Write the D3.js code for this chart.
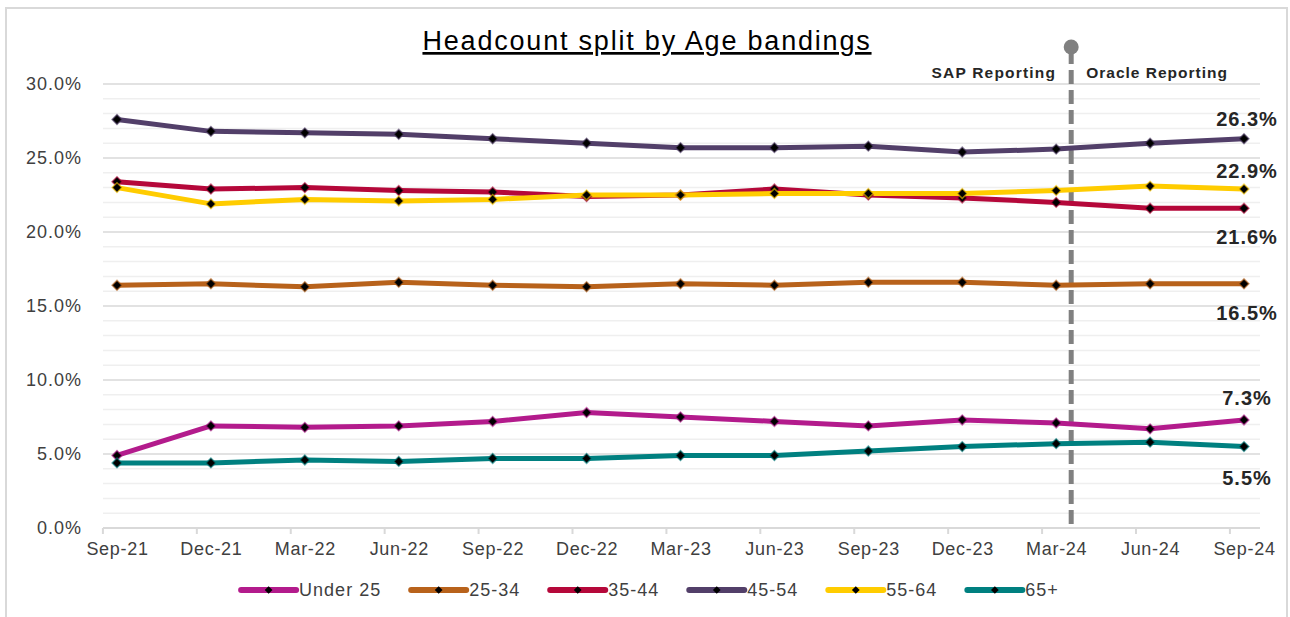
<!DOCTYPE html>
<html>
<head>
<meta charset="utf-8">
<script src="https://cdn.jsdelivr.net/npm/d3@7"></script>
<style>
  body { margin: 0; background: #fff; }
  svg text { font-family: "Liberation Sans", Arial, sans-serif; }
</style>
</head>
<body>
<svg class="chart" width="1290" height="617"></svg>
<script>
// quarters on the x axis
const quarters = ['Sep-21', 'Dec-21', 'Mar-22', 'Jun-22', 'Sep-22', 'Dec-22', 'Mar-23',
                  'Jun-23', 'Sep-23', 'Dec-23', 'Mar-24', 'Jun-24', 'Sep-24'];

// % of headcount per age band
const under25 = [4.9, 6.9, 6.8, 6.9, 7.2, 7.8, 7.5, 7.2, 6.9, 7.3, 7.1, 6.7, 7.3];
const age25to34 = [16.4, 16.5, 16.3, 16.6, 16.4, 16.3, 16.5, 16.4, 16.6, 16.6, 16.4, 16.5, 16.5];
const age35to44 = [23.4, 22.9, 23.0, 22.8, 22.7, 22.4, 22.5, 22.9, 22.5, 22.3, 22.0, 21.6, 21.6];
const age45to54 = [27.6, 26.8, 26.7, 26.6, 26.3, 26.0, 25.7, 25.7, 25.8, 25.4, 25.6, 26.0, 26.3];
const age55to64 = [23.0, 21.9, 22.2, 22.1, 22.2, 22.5, 22.5, 22.6, 22.6, 22.6, 22.8, 23.1, 22.9];
const age65plus = [4.4, 4.4, 4.6, 4.5, 4.7, 4.7, 4.9, 4.9, 5.2, 5.5, 5.7, 5.8, 5.5];

const bandNames = ['Under 25', '25-34', '35-44', '45-54', '55-64', '65+'];
const bandValues = [under25, age25to34, age35to44, age45to54, age55to64, age65plus];
const bandColors = ['#B31B8C', '#B8621B', '#B5083A', '#523F69', '#FFCC00', '#008080'];
// vertical nudge of the end label (px), relative to the last point
const labelShift = [-22, 29, 29, -20, -18, 31];

const yTicks = [0, 5, 10, 15, 20, 25, 30];
const switchAfter = 'Mar-24';

const svg = d3.select('.chart');

// outer frame
svg.append('rect')
    .attr('x', 6).attr('y', 8)
    .attr('width', 1281).attr('height', 620)
    .attr('fill', 'none')
    .attr('stroke', '#d9d9d9')
    .attr('stroke-width', 2);

const plotLeft = 103, plotRight = 1260, plotTop = 84, plotBottom = 528;

const x = d3.scalePoint()
    .domain(quarters)
    .range([117, 1244]);
const step = x.step();

const y = d3.scaleLinear()
    .domain([0, 30])
    .range([plotBottom, plotTop]);

// gridlines: light every 1%, darker every 5%
svg.append('g')
    .selectAll('line')
    .data(d3.range(1, 30).filter(d => d % 5 !== 0))
    .enter().append('line')
        .attr('x1', plotLeft).attr('x2', plotRight)
        .attr('y1', d => y(d)).attr('y2', d => y(d))
        .attr('stroke', '#efefef')
        .attr('stroke-width', 1.5);

svg.append('g')
    .selectAll('line')
    .data(yTicks.slice(1))
    .enter().append('line')
        .attr('x1', plotLeft).attr('x2', plotRight)
        .attr('y1', d => y(d)).attr('y2', d => y(d))
        .attr('stroke', '#d9d9d9')
        .attr('stroke-width', 1.5);

// y axis labels
const yAxis = svg.append('g')
    .attr('transform', 'translate(' + plotLeft + ',0)')
    .call(d3.axisLeft(y).tickValues(yTicks).tickSize(0).tickPadding(21)
        .tickFormat(d => d.toFixed(1) + '%'));
yAxis.select('.domain').remove();
yAxis.selectAll('text')
    .attr('font-size', 18)
    .attr('letter-spacing', 1)
    .attr('fill', '#404040')
    .attr('font-family', '"Liberation Sans", Arial, sans-serif');

// x axis
svg.append('line')
    .attr('x1', plotLeft).attr('x2', plotRight)
    .attr('y1', plotBottom).attr('y2', plotBottom)
    .attr('stroke', '#d9d9d9')
    .attr('stroke-width', 2);

svg.append('g')
    .selectAll('line')
    .data(quarters)
    .enter().append('line')
        .attr('x1', d => x(d) - step * 0.15).attr('x2', d => x(d) - step * 0.15)
        .attr('y1', plotBottom).attr('y2', plotBottom + 6)
        .attr('stroke', '#d9d9d9')
        .attr('stroke-width', 2);

const xAxis = svg.append('g')
    .attr('transform', 'translate(0,' + plotBottom + ')')
    .call(d3.axisBottom(x).tickSize(0).tickPadding(14));
xAxis.select('.domain').remove();
xAxis.selectAll('text')
    .attr('font-size', 18)
    .attr('letter-spacing', 0.7)
    .attr('fill', '#404040')
    .attr('font-family', '"Liberation Sans", Arial, sans-serif');

// SAP -> Oracle divider
const divX = x(switchAfter) + step * 0.16;
svg.append('line')
    .attr('x1', divX).attr('x2', divX)
    .attr('y1', 50).attr('y2', plotBottom - 4)
    .attr('stroke', '#808080')
    .attr('stroke-width', 5)
    .attr('stroke-dasharray', '14,6');
svg.append('circle')
    .attr('cx', divX).attr('cy', 47)
    .attr('r', 7.5)
    .attr('fill', '#808080');

svg.append('text')
    .attr('x', divX - 15).attr('y', 78)
    .attr('text-anchor', 'end')
    .attr('font-size', 15.5)
    .attr('font-weight', 'bold')
    .attr('letter-spacing', 1.2)
    .attr('fill', '#262626')
    .text('SAP Reporting');
svg.append('text')
    .attr('x', divX + 15).attr('y', 78)
    .attr('font-size', 15.5)
    .attr('font-weight', 'bold')
    .attr('letter-spacing', 1)
    .attr('fill', '#262626')
    .text('Oracle Reporting');

// title
svg.append('text')
    .attr('x', 647).attr('y', 50)
    .attr('text-anchor', 'middle')
    .attr('font-size', 27)
    .attr('letter-spacing', 1.8)
    .attr('text-decoration', 'underline')
    .attr('fill', '#000')
    .text('Headcount split by Age bandings');

// series lines
const line = d3.line()
    .x((d, i) => x(quarters[i]))
    .y(d => y(d));

// square turned 45 degrees, like Excel's diamond marker
const diamond = d3.symbol().type(d3.symbolSquare).size(48);

bandValues.forEach((vals, k) => {
    svg.append('path')
        .datum(vals)
        .attr('fill', 'none')
        .attr('stroke', bandColors[k])
        .attr('stroke-width', 5)
        .attr('stroke-linejoin', 'round')
        .attr('d', line);
});

bandValues.forEach((vals, k) => {
    svg.append('g')
        .selectAll('path')
        .data(vals)
        .enter().append('path')
            .attr('transform', (d, i) => 'translate(' + x(quarters[i]) + ',' + y(d) + ') rotate(45)')
            .attr('d', diamond)
            .attr('fill', '#000')
            .attr('stroke', bandColors[k])
            .attr('stroke-opacity', 0.6)
            .attr('stroke-width', 1.5);
});

// end-of-line value labels
bandValues.forEach((vals, k) => {
    const last = vals[vals.length - 1];
    svg.append('text')
        .attr('x', x(quarters[quarters.length - 1]) + 3)
        .attr('y', y(last) + labelShift[k])
        .attr('dy', '0.35em')
        .attr('text-anchor', 'middle')
        .attr('font-size', 20)
        .attr('font-weight', 'bold')
        .attr('letter-spacing', 1)
        .attr('fill', '#262626')
        .text(last.toFixed(1) + '%');
});

// legend
const legend = svg.append('g');
const legendGap = 30;
let lx = 0;
bandNames.forEach((name, k) => {
    const g = legend.append('g').attr('transform', 'translate(' + lx + ',0)');
    g.append('line')
        .attr('x1', 0).attr('x2', 55)
        .attr('y1', 0).attr('y2', 0)
        .attr('stroke', bandColors[k])
        .attr('stroke-width', 6)
        .attr('stroke-linecap', 'round');
    g.append('path')
        .attr('transform', 'translate(27.5,0) rotate(45)')
        .attr('d', d3.symbol().type(d3.symbolSquare).size(30))
        .attr('fill', '#000');
    const t = g.append('text')
        .attr('x', 58).attr('y', 0)
        .attr('dy', '0.35em')
        .attr('font-size', 18)
        .attr('letter-spacing', 1)
        .attr('fill', '#404040')
        .text(name);
    lx += 58 + t.node().getComputedTextLength() + legendGap;
});
const legendW = lx - legendGap;
legend.attr('transform', 'translate(' + (650 - legendW / 2) + ',590)');
</script>
</body>
</html>
